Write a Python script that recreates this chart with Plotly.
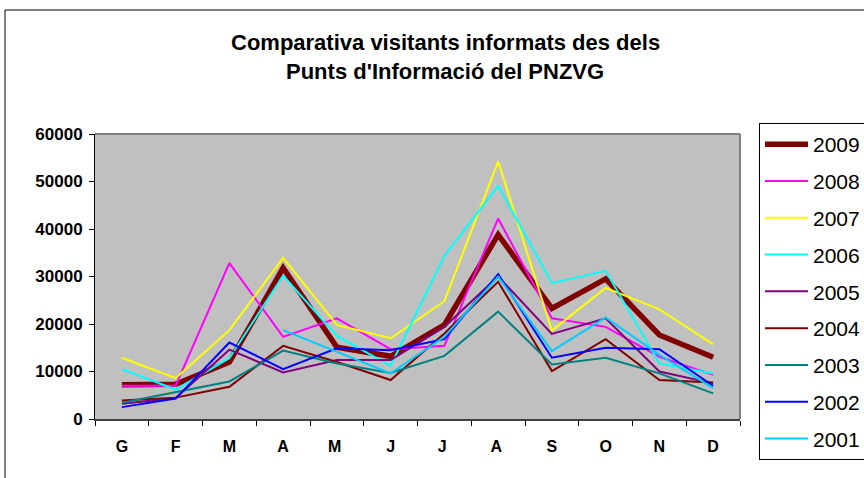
"""Comparativa visitants informats - Punts d'Informació del PNZVG."""

import plotly.graph_objects as go

months = ["G", "F", "M", "A", "M ", "J", "J ", "A ", "S", "O", "N", "D"]

v2009 = [7200, 7300, 12000, 31800, 15100, 13200, 19800, 38800, 23300, 29500, 17700, 13000]
v2008 = [7000, 7000, 32800, 17300, 21200, 14700, 15400, 42200, 21200, 19400, 13100, 9300]
v2007 = [12900, 8600, 18700, 33900, 19800, 17000, 24800, 54200, 18600, 27600, 23100, 15700]
v2006 = [10500, 6200, 12800, 30200, 17500, 11200, 34300, 49100, 28600, 31200, 11700, 9600]
v2005 = [3200, 4400, 14600, 9800, 12400, 12400, 19400, 30000, 17900, 21200, 10000, 7500]
v2004 = [3900, 4500, 6800, 15400, 12000, 8200, 18000, 28900, 10100, 16800, 8200, 7700]
v2003 = [3400, 5700, 7900, 14400, 11700, 9700, 13300, 22600, 11500, 12900, 9600, 5400]
v2002 = [2500, 4300, 16100, 10500, 14900, 14500, 16800, 30500, 12900, 15000, 14700, 7000]
v2001 = [None, None, None, 18700, 14200, 9600, 17300, 30000, 14300, 21400, 13500, 6500]

series = [
    ("2009", v2009, "#800000", 5.5),
    ("2008", v2008, "#FF00FF", 2),
    ("2007", v2007, "#FFFF00", 2),
    ("2006", v2006, "#00FFFF", 2),
    ("2005", v2005, "#800080", 2),
    ("2004", v2004, "#800000", 2),
    ("2003", v2003, "#008080", 2),
    ("2002", v2002, "#0000FF", 2),
    ("2001", v2001, "#00CCFF", 2),
]

# plot area in pixels
L, R, T, B = 95, 740, 134, 419
W, H = 864, 478


def px_x(x):
    return (x - L) / (R - L)


def px_y(y):
    return (B - y) / (B - T)


fig = go.Figure()
for name, vals, color, width in series:
    fig.add_trace(go.Scatter(
        x=months, y=vals, name=name, mode="lines", legendgroup=name,
        line=dict(color=color, width=width),
    ))

font = "Liberation Sans, Arial, sans-serif"

fig.update_layout(
    width=W, height=H,
    margin=dict(l=L, r=W - R, t=T, b=H - B, autoexpand=False),
    paper_bgcolor="white", plot_bgcolor="#C0C0C0",
    font=dict(family=font, color="black"),
    showlegend=True,
    legend=dict(
        x=px_x(759), xanchor="left",
        y=px_y(123), yanchor="top",
        bordercolor="black", borderwidth=1, bgcolor="white",
        font=dict(size=21, family=font),
        itemwidth=43, tracegroupgap=6.5, entrywidth=80, maxheight=420,
    ),
    xaxis=dict(
        type="category", range=[-0.5, len(months) - 0.5],
        showgrid=False, zeroline=False,
        showline=True, linecolor="#404040", linewidth=2,
        ticks="outside", ticklen=5, tickcolor="black", tickson="boundaries",
        tickfont=dict(size=16, family=font, weight="bold"), ticklabelstandoff=12,
    ),
    yaxis=dict(
        range=[0, 60000], dtick=10000, showgrid=False, zeroline=False,
        showline=True, linecolor="black", linewidth=1,
        ticks="outside", ticklen=5, tickcolor="black", ticklabelstandoff=3,
        tickfont=dict(size=17, family=font, weight="bold"), tickformat="d",
    ),
    annotations=[
        dict(text="<b>Comparativa visitants informats des dels</b>",
             x=px_x(445), y=px_y(42), yanchor="middle", xanchor="center",
             xref="paper", yref="paper", showarrow=False, font=dict(size=22, family=font)),
        dict(text="<b>Punts d'Informació del PNZVG</b>",
             x=px_x(445), y=px_y(71), yanchor="middle", xanchor="center",
             xref="paper", yref="paper", showarrow=False, font=dict(size=22, family=font)),
    ],
)

# gray frame on top/right of plot area and outer chart border
fig.add_shape(type="line", xref="paper", yref="paper", x0=0, x1=1, y0=1, y1=1,
              line=dict(color="#808080", width=2))
fig.add_shape(type="line", xref="paper", yref="paper", x0=1, x1=1, y0=0, y1=1,
              line=dict(color="#808080", width=2))
fig.add_shape(type="line", xref="paper", yref="paper",
              x0=px_x(5), x1=px_x(5), y0=px_y(478), y1=px_y(10),
              line=dict(color="black", width=1))
fig.add_shape(type="line", xref="paper", yref="paper",
              x0=px_x(5), x1=px_x(864), y0=px_y(10), y1=px_y(10),
              line=dict(color="black", width=1))

fig.write_html("out.html", config={"displayModeBar": False},
               post_script="document.body.style.margin='0';")
